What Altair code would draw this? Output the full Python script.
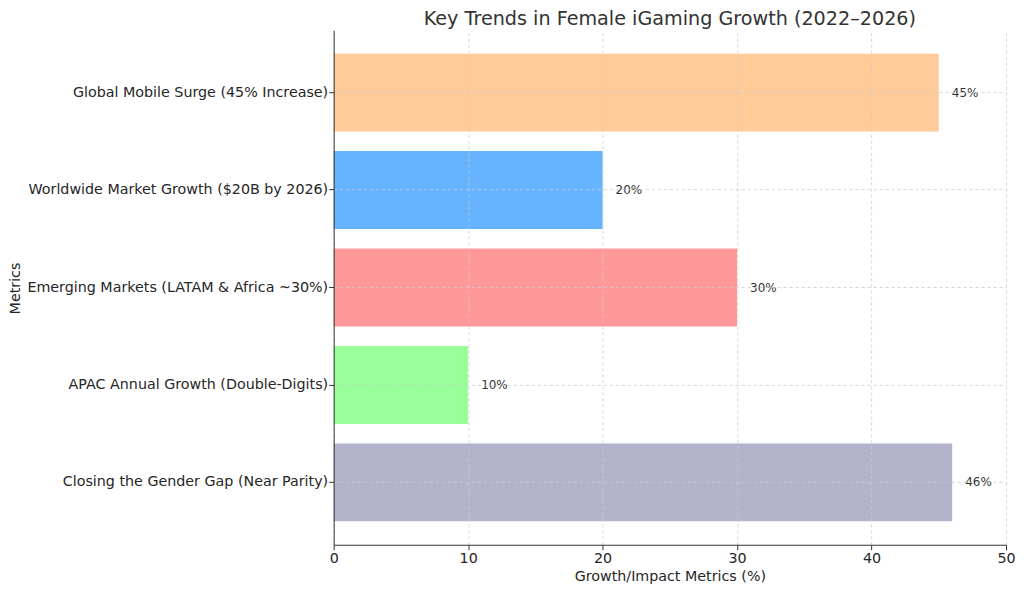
import altair as alt
import pandas as pd

categories = [
    "Global Mobile Surge (45% Increase)",
    "Worldwide Market Growth ($20B by 2026)",
    "Emerging Markets (LATAM & Africa ~30%)",
    "APAC Annual Growth (Double-Digits)",
    "Closing the Gender Gap (Near Parity)",
]
values = [45, 20, 30, 10, 46]
labels = ["45%", "20%", "30%", "10%", "46%"]
colors = ["#ffcc99", "#66b3ff", "#ff9999", "#99ff99", "#b3b3cc"]

df = pd.DataFrame({"Metric": categories, "Value": values, "Label": labels})

FONT = "DejaVu Sans"

y_enc = alt.Y(
    "Metric:N",
    sort=categories,
    title="Metrics",
    scale=alt.Scale(paddingInner=0.2, paddingOuter=0.24),
    axis=alt.Axis(
        bandPosition=0.5,
        grid=True,
        gridDash=[3, 3],
        gridColor="#cccccc",
        gridWidth=0.8,
        tickSize=5,
        tickColor="#333333",
        domainColor="#333333",
        labelPadding=1,
        labelFontSize=14.3,
        labelColor="#262626",
        labelFont=FONT,
        labelLimit=400,
        titleFont=FONT,
        titleFontSize=14.3,
        titleFontWeight="normal",
        titleColor="#262626",
        titleX=-318,
        titleY=258,
        titleAngle=270,
        titleAlign="center",
        titleBaseline="middle",
        zindex=1,
    ),
)

x_enc = alt.X(
    "Value:Q",
    title="Growth/Impact Metrics (%)",
    scale=alt.Scale(domain=[0, 50], nice=False),
    axis=alt.Axis(
        values=[0, 10, 20, 30, 40, 50],
        grid=True,
        gridDash=[3, 3],
        gridColor="#cccccc",
        gridWidth=0.8,
        tickSize=5,
        tickColor="#333333",
        domainColor="#333333",
        labelPadding=2,
        labelFlush=False,
        labelFontSize=14.3,
        labelColor="#262626",
        labelFont=FONT,
        titleFont=FONT,
        titleFontSize=14.3,
        titleFontWeight="normal",
        titleColor="#262626",
        titlePadding=3,
        zindex=1,
    ),
)

bars = alt.Chart(df).mark_bar(opacity=1).encode(
    x=x_enc,
    y=y_enc,
    color=alt.Color("Metric:N", sort=categories,
                    scale=alt.Scale(domain=categories, range=colors), legend=None),
)

text = alt.Chart(df).mark_text(
    align="left", baseline="middle", dx=13, font=FONT, fontSize=12, color="#333333"
).encode(
    x="Value:Q",
    y=alt.Y("Metric:N", sort=categories),
    text="Label:N",
)

chart = (bars + text).properties(
    width=673,
    height=515,
    title=alt.TitleParams(
        "Key Trends in Female iGaming Growth (2022–2026)",
        font=FONT,
        fontSize=19.2,
        fontWeight="normal",
        color="#333333",
        anchor="middle",
        offset=5,
        dy=4,
    ),
    autosize=alt.AutoSizeParams(type="none"),
    padding={"left": 326, "top": 22, "right": 10, "bottom": 49},
).configure_view(stroke=None)

chart.save("out.html", embed_options={"renderer": "svg", "actions": False})
